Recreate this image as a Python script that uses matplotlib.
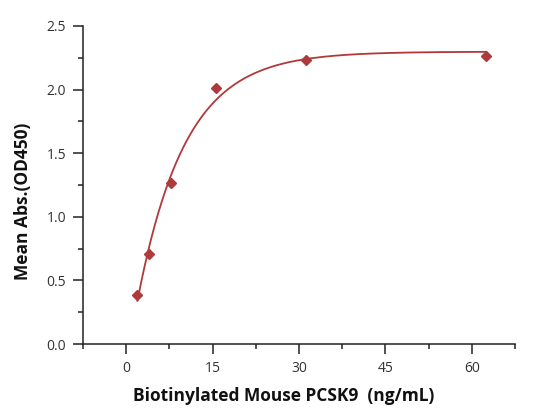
import numpy as np
import matplotlib
matplotlib.use("Agg")
from matplotlib import pyplot as plt
from matplotlib.ticker import MultipleLocator

# serial dilution points
conc = [1.95, 3.9, 7.8, 15.6, 31.25, 62.5]
od450 = [0.385, 0.707, 1.266, 2.015, 2.233, 2.266]

x_ticks = [0, 15, 30, 45, 60]
y_ticks = [0.0, 0.5, 1.0, 1.5, 2.0, 2.5]

red = "#B0393B"
ink = "#222222"


def exp_assoc(x, p):
    top, span, k = p
    return top - span * np.exp(-k * x)


def fit_curve(x, y, p0, n_iter=300):
    # small Levenberg-Marquardt, no scipy here
    p = np.array(p0, dtype=float)
    lam = 1e-2
    sse = lambda q: np.sum((y - exp_assoc(x, q)) ** 2)
    for _ in range(n_iter):
        r = y - exp_assoc(x, p)
        jac = np.zeros((len(x), len(p)))
        for k in range(len(p)):
            dp = np.zeros(len(p))
            dp[k] = 1e-6 * max(abs(p[k]), 1e-3)
            jac[:, k] = (exp_assoc(x, p + dp) - exp_assoc(x, p)) / dp[k]
        jtj = jac.T @ jac
        step = np.linalg.solve(jtj + lam * np.diag(np.diag(jtj)), jac.T @ r)
        p_new = p + step
        if sse(p_new) < sse(p):
            p = p_new
            lam *= 0.3
        else:
            lam *= 10
    return p


x = np.array(conc)
y = np.array(od450)
params = fit_curve(x, y, [2.3, 2.3, 0.1])
xs = np.linspace(x.min(), x.max(), 400)

fig = plt.figure(figsize=(5.49, 4.18), dpi=100)
ax = fig.add_axes([0.1512, 0.177, 0.787, 0.761])

ax.plot(xs, exp_assoc(xs, params), color=red, lw=1.3)
ax.plot(conc, od450, ls="none", marker="D", ms=5, color=red)

ax.set_xlim(-7.5, 67.5)
ax.set_ylim(0, 2.5)
ax.set_xticks(x_ticks)
ax.set_yticks(y_ticks)
ax.xaxis.set_minor_locator(MultipleLocator(7.5))
ax.yaxis.set_minor_locator(MultipleLocator(0.25))
ax.set_yticklabels(["{:.1f}".format(v) for v in y_ticks])

for s in ["top", "right"]:
    ax.spines[s].set_visible(False)
for s in ["left", "bottom"]:
    ax.spines[s].set_linewidth(1.1)
    ax.spines[s].set_color(ink)

ax.tick_params(which="major", length=7, width=1.1, color=ink,
               labelsize=10, labelcolor="#333333", pad=5)
ax.tick_params(which="minor", length=3.5, width=1.1, color=ink)

ax.set_xlabel("Biotinylated Mouse PCSK9  (ng/mL)", fontsize=12.5,
              fontweight="bold", family="Open Sans", color="#111111")
ax.set_ylabel("Mean Abs.(OD450)", fontsize=12.5, fontweight="bold",
              family="Open Sans", color="#111111")
ax.xaxis.set_label_coords(0.464, -0.135)
ax.yaxis.set_label_coords(-0.118, 0.45)
for lab in ax.get_xticklabels() + ax.get_yticklabels():
    lab.set_family("Open Sans")

fig.savefig("out.png", dpi=100)
